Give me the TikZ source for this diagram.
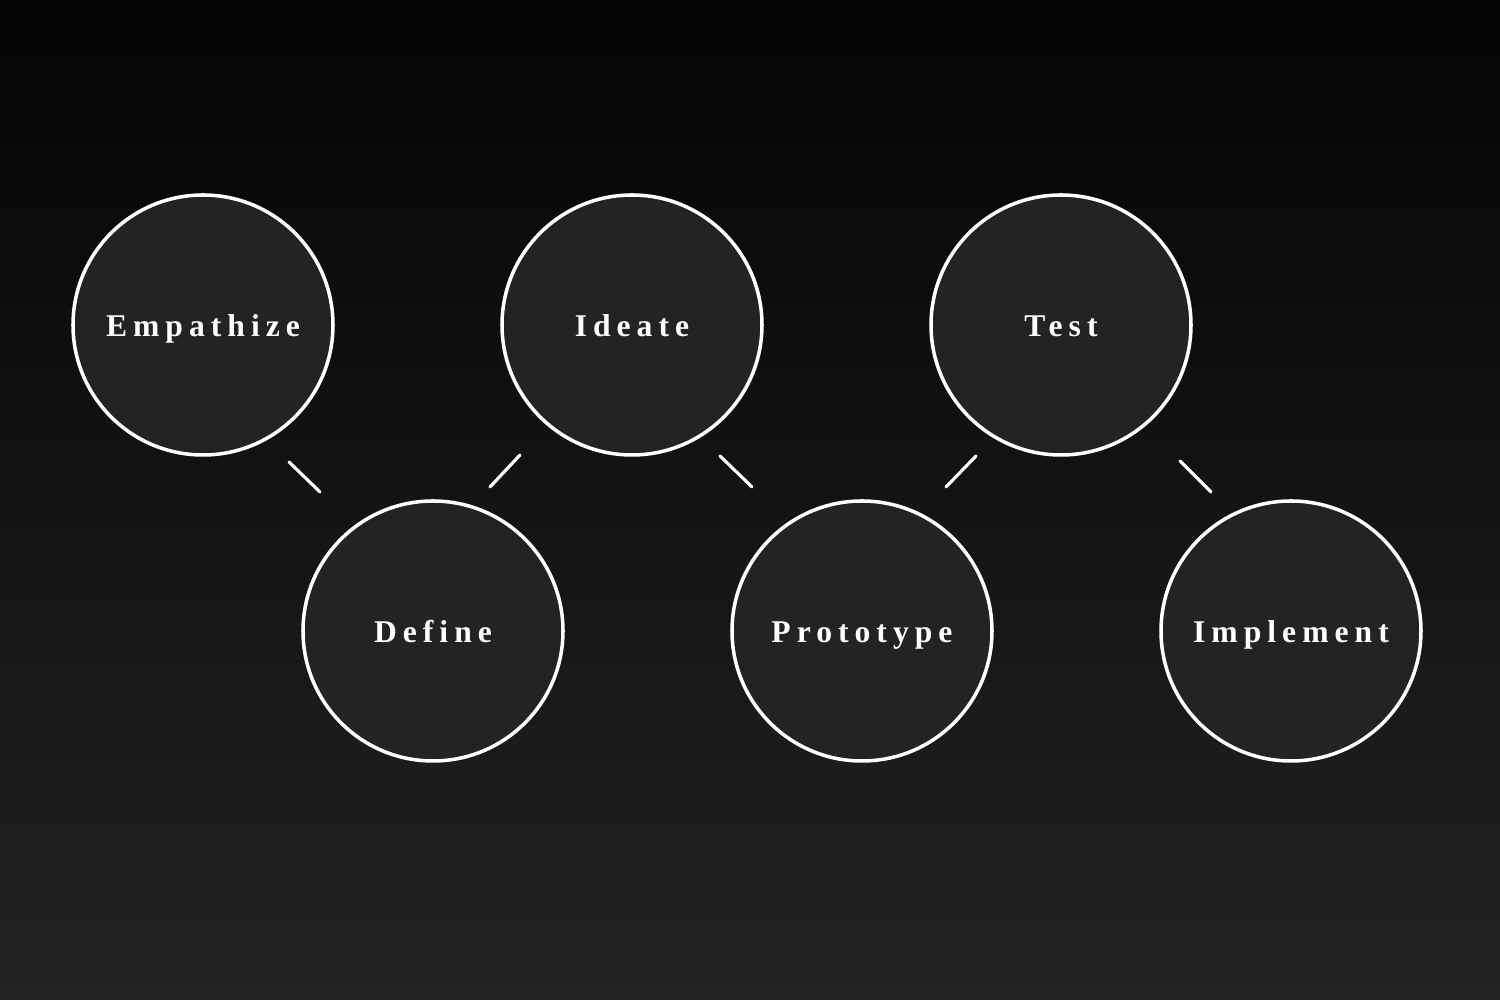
\documentclass[tikz,border=0pt]{standalone}
\usepackage{fontspec}
\newfontfamily\stagefont[LetterSpace=19]{Liberation Serif}
\definecolor{bgtop}{HTML}{040404}
\definecolor{bgbottom}{HTML}{232323}
\definecolor{discfill}{HTML}{232323}
\begin{document}
\begin{tikzpicture}[
stagenode/.style={circle, draw=white, fill=discfill, line width=1pt, minimum size=2.6cm, inner sep=0pt, text height=0.24cm, text depth=0pt, text=white, font=\stagefont\bfseries\fontsize{9}{10}\selectfont},
tickline/.style={draw=white, line width=0.9pt, line cap=round},
]
\shade[top color=bgtop, bottom color=bgbottom] (0,0) rectangle (15,-10);
\useasboundingbox (0,0) rectangle (15,-10);

%Nodes
\node[stagenode] (empathize) at (2.03,-3.25) {Empathize};
\node[stagenode] (ideate) at (6.32,-3.25) {Ideate};
\node[stagenode] (test) at (10.61,-3.25) {Test};
\node[stagenode] (define) at (4.33,-6.31) {Define};
\node[stagenode] (prototype) at (8.62,-6.31) {Prototype};
\node[stagenode] (implement) at (12.91,-6.31) {Implement};

%Tick ends
\coordinate (empdefA) at (2.89,-4.62);
\coordinate (empdefB) at (3.20,-4.92);
\coordinate (idedefA) at (5.20,-4.55);
\coordinate (idedefB) at (4.90,-4.87);
\coordinate (ideproA) at (7.20,-4.56);
\coordinate (ideproB) at (7.52,-4.87);
\coordinate (tesproA) at (9.76,-4.56);
\coordinate (tesproB) at (9.46,-4.87);
\coordinate (tesimpA) at (11.80,-4.61);
\coordinate (tesimpB) at (12.11,-4.92);

%Lines
\draw[tickline] (empdefA) -- (empdefB);
\draw[tickline] (idedefA) -- (idedefB);
\draw[tickline] (ideproA) -- (ideproB);
\draw[tickline] (tesproA) -- (tesproB);
\draw[tickline] (tesimpA) -- (tesimpB);

\end{tikzpicture}
\end{document}
